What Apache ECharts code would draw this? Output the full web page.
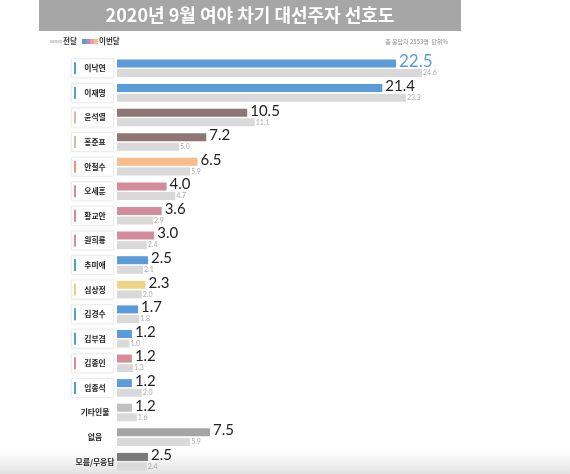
<!DOCTYPE html>
<html><head><meta charset="utf-8">
<script src="https://cdn.jsdelivr.net/npm/echarts@6/dist/echarts.min.js"></script>
<style>html,body{margin:0;padding:0;background:#fff}#c{width:570px;height:474px}</style>
</head><body><div id="c"></div>
<script>
const titleText = '2020년 9월 여야 차기 대선주자 선호도';
const noteText = '총 응답자 2553명  단위%';
const legendPrev = '전달';
const legendCurr = '이번달';
const categories = ['이낙연','이재명','윤석열','홍준표','안철수','오세훈','황교안','원희룡','추미애','심상정','김경수','김부겸','김종인','임종석','기타인물','없음','모름/무응답'];
const currentValues = [22.5,21.4,10.5,7.2,6.5,4.0,3.6,3.0,2.5,2.3,1.7,1.2,1.2,1.2,1.2,7.5,2.5];
const previousValues = [24.6,23.3,11.1,5.0,5.9,4.7,2.9,2.4,2.1,2.0,1.8,1.0,1.3,2.0,1.6,5.9,2.4];
const barColors = ['#5b9bd8','#5b9bd8','#8e7576','#8e7576','#f8bd8a','#d48c9a','#d48c9a','#d48c9a','#5b9bd8','#eed484','#5b9bd8','#5b9bd8','#d48c9a','#5b9bd8','#bfbfbf','#a5a5a5','#7a7a7a'];
const markerColors = ['#4fa3c3','#4fa3c3','#dbbcaa','#dbbcaa','#f0927e','#d48c9a','#d48c9a','#d48c9a','#4fa3c3','#ecd27f','#4fa3c3','#4fa3c3','#d48c9a','#4fa3c3',null,null,null];

const chart = echarts.init(document.getElementById('c'), null, {renderer:'canvas'});
const rich = {
  s:{width:4},
  t:{width:30,align:'center',fontSize:7.8,fontWeight:'bold',color:'#222',fontFamily:'"Noto Sans CJK KR"'}
};
markerColors.forEach((c,i)=>{ rich['m'+i] = {width:2,height:12,backgroundColor:c||'transparent'}; });

const yData = categories.map((name,i)=> markerColors[i] ? name : {
  value:name,
  textStyle:{backgroundColor:'transparent',borderColor:'transparent',borderWidth:0,shadowBlur:0,shadowColor:'transparent'}
});

const currData = currentValues.map((v,i)=>{
  const item = {value:v,itemStyle:{color:barColors[i]}};
  if(i===0) item.label = {color:'#5b9bd5',fontSize:17};
  return item;
});

chart.setOption({
  animation:false,
  backgroundColor:'#fff',
  graphic:[
    {type:'rect',z:-10,shape:{x:0,y:448,width:570,height:26},style:{fill:new echarts.graphic.LinearGradient(0,0,0,1,[{offset:0,color:'rgba(235,235,235,0)'},{offset:1,color:'rgba(225,225,225,1)'}])}},
    {type:'rect',shape:{x:39,y:0,width:422,height:31},style:{fill:'#a6a6a6'}},
    {type:'text',x:250,y:15.5,style:{text:titleText,fill:'#fff',font:'bold 18px "Noto Sans CJK KR"',textAlign:'center',textVerticalAlign:'middle'}},
    {type:'rect',shape:{x:50,y:40,width:12,height:3},style:{fill:'#d6d6d6'}},
    {type:'text',x:63,y:41.5,style:{text:legendPrev,fill:'#333',font:'bold 7.5px "Noto Sans CJK KR"',textVerticalAlign:'middle'}},
    {type:'rect',shape:{x:82,y:39,width:4,height:5},style:{fill:'#5b9bd8'}},
    {type:'rect',shape:{x:86,y:39,width:4,height:5},style:{fill:'#b58cb0'}},
    {type:'rect',shape:{x:90,y:39,width:4,height:5},style:{fill:'#e89aa8'}},
    {type:'rect',shape:{x:94,y:39,width:4,height:5},style:{fill:'#f8bd8a'}},
    {type:'text',x:99,y:41.5,style:{text:legendCurr,fill:'#333',font:'bold 7.5px "Noto Sans CJK KR"',textVerticalAlign:'middle'}},
    {type:'text',x:448,y:41.5,style:{text:noteText,fill:'#888',font:'6px "Noto Sans CJK KR"',textAlign:'right',textVerticalAlign:'middle'}}
  ],
  grid:{left:117,top:56,width:372,height:420},
  xAxis:{type:'value',min:0,max:30,show:false},
  yAxis:{type:'category',inverse:true,data:yData,
    axisLine:{show:false},axisTick:{show:false},splitLine:{show:false},
    axisLabel:{margin:4,align:'right',
      backgroundColor:'#fff',borderColor:'#f2f2f2',borderWidth:1,
      shadowColor:'rgba(0,0,0,0.06)',shadowBlur:2,
      padding:[3,3,3,2],
      formatter:(v,i)=>'{m'+i+'|}{s|}{t|'+v+'}',
      rich:rich}
  },
  series:[
    {type:'bar',name:legendCurr,data:currData,barWidth:8,barGap:'20%',
      label:{show:true,position:'right',distance:3,offset:[0,-2],fontSize:15,color:'#222',fontFamily:'Lato',
        formatter:p=>p.value.toFixed(1)}},
    {type:'bar',name:legendPrev,data:previousValues,barWidth:8,itemStyle:{color:'#d9d9d9'},
      label:{show:true,position:'right',distance:1,fontSize:7,color:'#aaa',fontFamily:'Lato',
        formatter:p=>p.value.toFixed(1)}}
  ]
});
</script></body></html>
